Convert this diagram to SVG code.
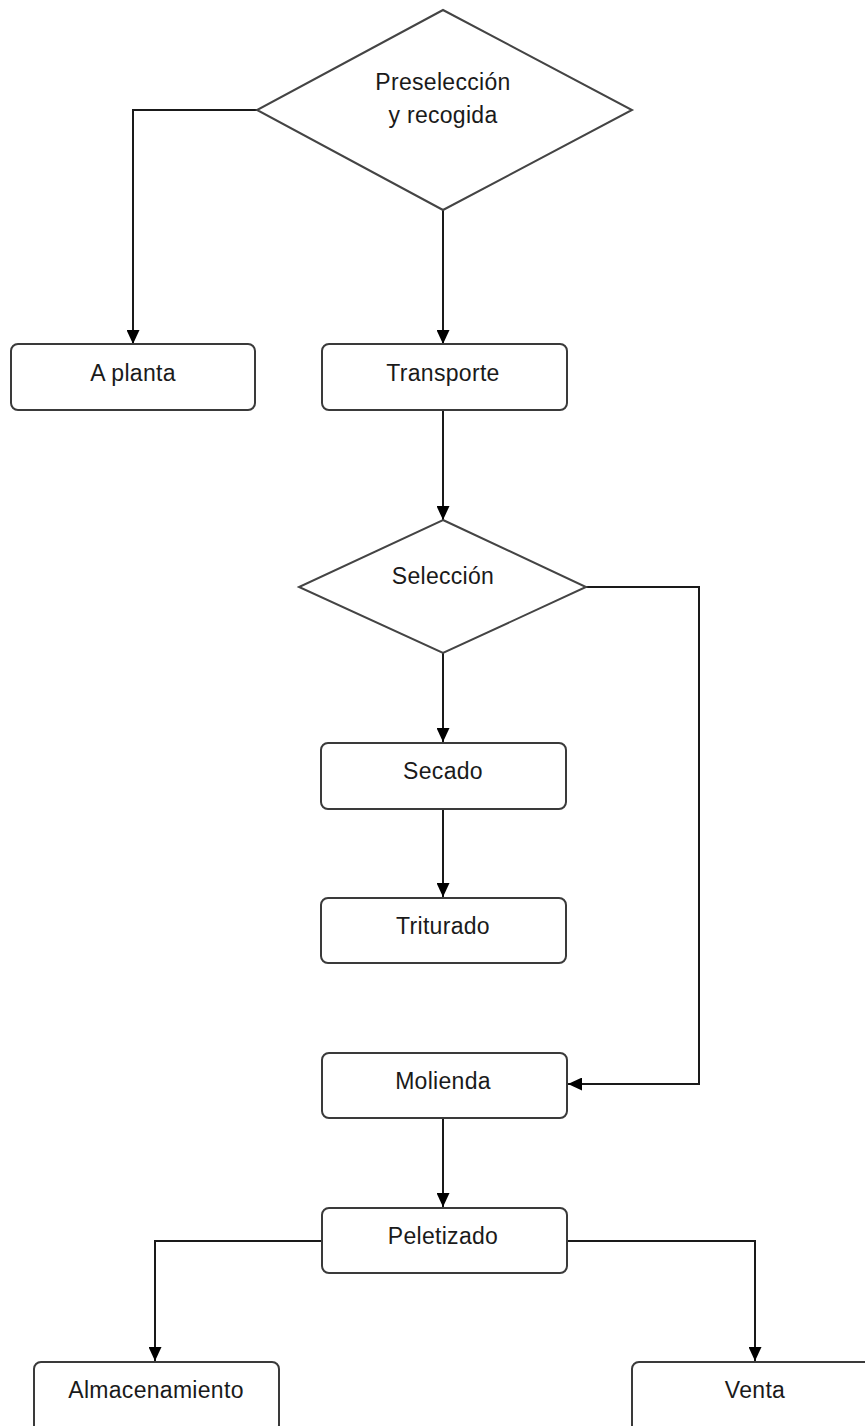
<svg xmlns="http://www.w3.org/2000/svg" width="865" height="1426" viewBox="0 0 865 1426">
<style>
.box{fill:#fff;stroke:#3a3a3a;stroke-width:2}
.dia{fill:#fff;stroke:#444;stroke-width:2}
.lbl{font-family:"Liberation Sans",Arial,sans-serif;font-size:23px;fill:#1a1a1a;text-anchor:middle;letter-spacing:0.3px}
.edge{fill:none;stroke:#1a1a1a;stroke-width:2}
</style>
<defs>
<marker id="arr" viewBox="0 0 14 13" refX="14" refY="6.5" markerWidth="14" markerHeight="13" markerUnits="userSpaceOnUse" orient="auto">
<path d="M0,0 L14,6.5 L0,13 Z" fill="#000"/>
</marker>
</defs>
<rect width="865" height="1426" fill="#fff"/>
<g id="connectors">
<polyline class="edge" points="257,110 133,110 133,344" marker-end="url(#arr)"/>
<line class="edge" x1="443" y1="210" x2="443" y2="344" marker-end="url(#arr)"/>
<line class="edge" x1="443" y1="410" x2="443" y2="520" marker-end="url(#arr)"/>
<line class="edge" x1="443" y1="653" x2="443" y2="742" marker-end="url(#arr)"/>
<line class="edge" x1="443" y1="809" x2="443" y2="897" marker-end="url(#arr)"/>
<polyline class="edge" points="586,587 699,587 699,1084 568,1084" marker-end="url(#arr)"/>
<line class="edge" x1="443" y1="1118" x2="443" y2="1207" marker-end="url(#arr)"/>
<polyline class="edge" points="322,1241 155,1241 155,1361" marker-end="url(#arr)"/>
<polyline class="edge" points="567,1241 755,1241 755,1361" marker-end="url(#arr)"/>
</g>
<g id="preseleccion">
<polygon class="dia" points="443,10 632,110 443,210 257,110"/>
<text class="lbl" x="443" y="90">Preselección</text>
<text class="lbl" x="443" y="123">y recogida</text>
</g>
<g id="aplanta">
<rect class="box" x="11" y="344" width="244" height="66" rx="7"/>
<text class="lbl" x="133" y="381">A planta</text>
</g>
<g id="transporte">
<rect class="box" x="322" y="344" width="245" height="66" rx="7"/>
<text class="lbl" x="443" y="381">Transporte</text>
</g>
<g id="seleccion">
<polygon class="dia" points="443,520 586,587 443,653 299,587"/>
<text class="lbl" x="443" y="584">Selección</text>
</g>
<g id="secado">
<rect class="box" x="321" y="743" width="245" height="66" rx="7"/>
<text class="lbl" x="443" y="779">Secado</text>
</g>
<g id="triturado">
<rect class="box" x="321" y="898" width="245" height="65" rx="7"/>
<text class="lbl" x="443" y="934">Triturado</text>
</g>
<g id="molienda">
<rect class="box" x="322" y="1053" width="245" height="65" rx="7"/>
<text class="lbl" x="443" y="1089">Molienda</text>
</g>
<g id="peletizado">
<rect class="box" x="322" y="1208" width="245" height="65" rx="7"/>
<text class="lbl" x="443" y="1244">Peletizado</text>
</g>
<g id="almacenamiento">
<rect class="box" x="34" y="1362" width="245" height="70" rx="7"/>
<text class="lbl" x="156" y="1398">Almacenamiento</text>
</g>
<g id="venta">
<rect class="box" x="632" y="1362" width="245" height="70" rx="7"/>
<text class="lbl" x="755" y="1398">Venta</text>
</g>
</svg>
